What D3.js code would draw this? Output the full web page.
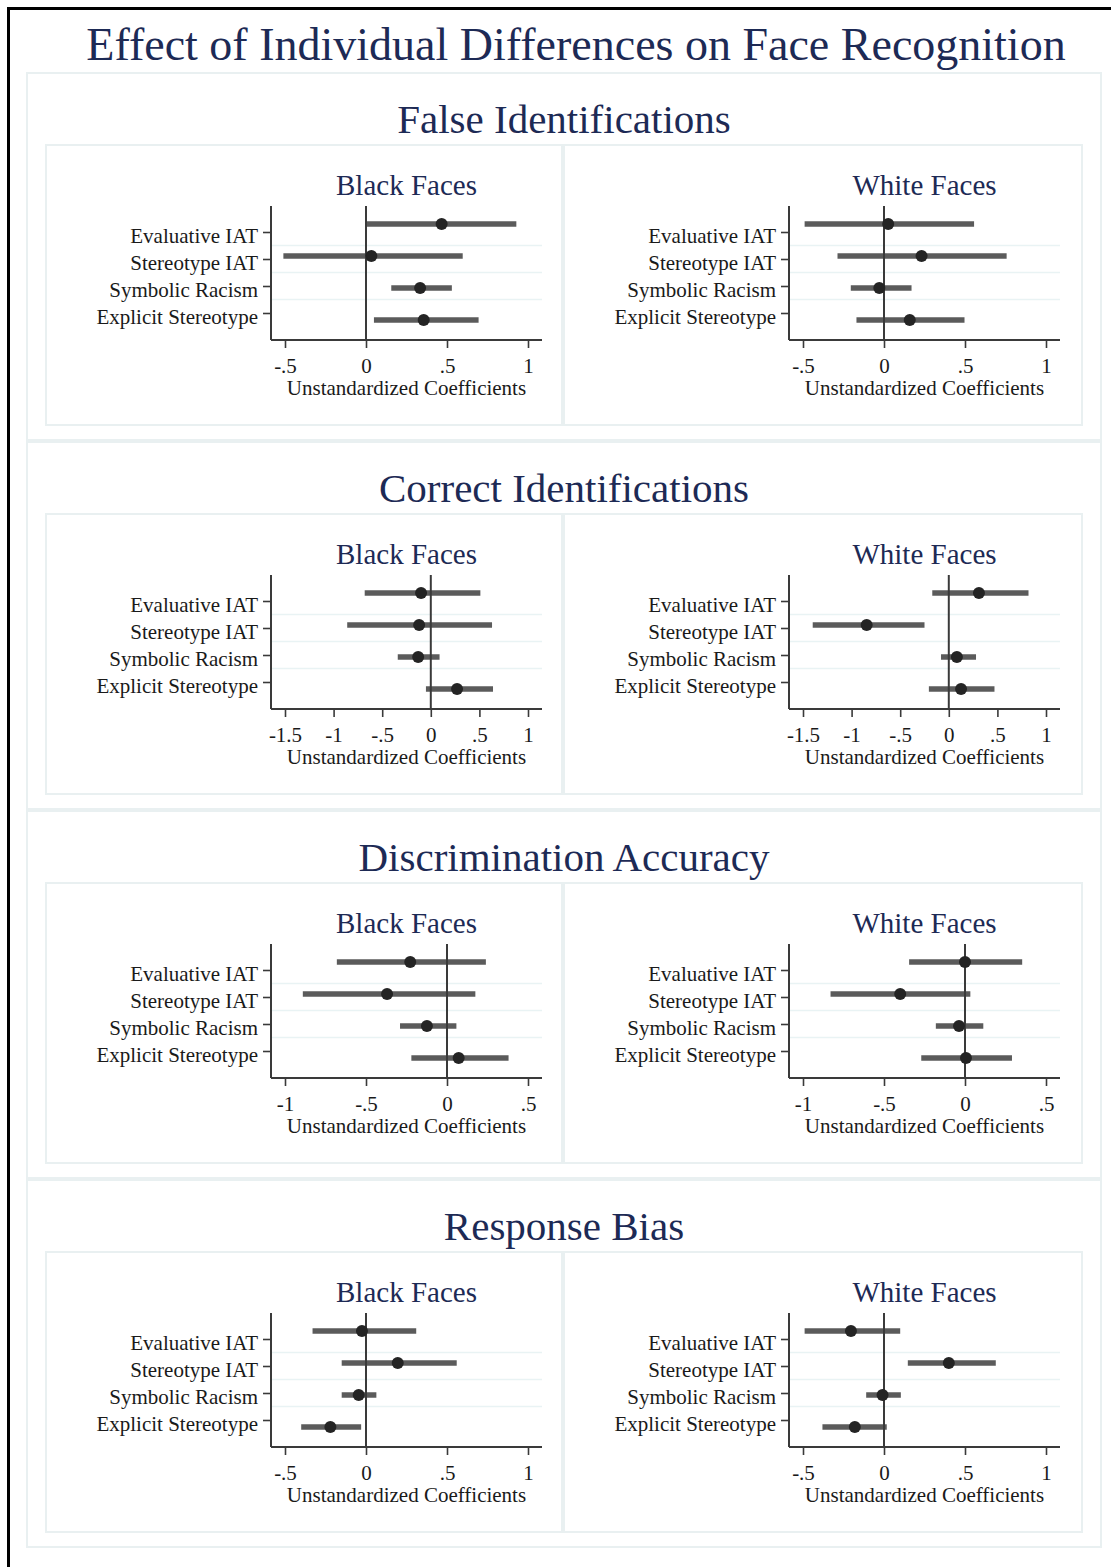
<!DOCTYPE html>
<html>
<head>
<meta charset="utf-8">
<script src="https://cdn.jsdelivr.net/npm/d3@7"></script>
<style>
  html, body { margin: 0; padding: 0; background: #fff; }
  svg { display: block; }
  text { font-family: "Liberation Serif", "Times New Roman", serif; }
</style>
</head>
<body>
<script>
// ---------- data ----------
const chartTitle = "Effect of Individual Differences on Face Recognition";
const outcomes = ["False Identifications", "Correct Identifications", "Discrimination Accuracy", "Response Bias"];
const faceGroups = ["Black Faces", "White Faces"];
const predictors = ["Evaluative IAT", "Stereotype IAT", "Symbolic Racism", "Explicit Stereotype"];
const xAxisTitle = "Unstandardized Coefficients";

// tick values / labels
const ticksA = [-0.5, 0, 0.5, 1];
const tickLabelsA = ["-.5", "0", ".5", "1"];
const ticksB = [-1.5, -1, -0.5, 0, 0.5, 1];
const tickLabelsB = ["-1.5", "-1", "-.5", "0", ".5", "1"];
const ticksC = [-1, -0.5, 0, 0.5];
const tickLabelsC = ["-1", "-.5", "0", ".5"];

// False identifications
const falseBlackCoef = [0.467, 0.033, 0.334, 0.356];
const falseBlackLo   = [0.006, -0.51, 0.156, 0.049];
const falseBlackHi   = [0.928, 0.597, 0.53, 0.695];
const falseWhiteCoef = [0.026, 0.232, -0.029, 0.159];
const falseWhiteLo   = [-0.49, -0.287, -0.205, -0.17];
const falseWhiteHi   = [0.556, 0.757, 0.17, 0.497];
// Correct identifications
const correctBlackCoef = [-0.10, -0.12, -0.13, 0.27];
const correctBlackLo   = [-0.68, -0.86, -0.34, -0.05];
const correctBlackHi   = [0.51, 0.63, 0.09, 0.64];
const correctWhiteCoef = [0.31, -0.845, 0.083, 0.126];
const correctWhiteLo   = [-0.17, -1.40, -0.08, -0.205];
const correctWhiteHi   = [0.82, -0.25, 0.28, 0.47];
// Discrimination accuracy
const discBlackCoef = [-0.227, -0.37, -0.124, 0.072];
const discBlackLo   = [-0.68, -0.89, -0.29, -0.22];
const discBlackHi   = [0.24, 0.175, 0.058, 0.38];
const discWhiteCoef = [0.0, -0.40, -0.037, 0.006];
const discWhiteLo   = [-0.345, -0.83, -0.18, -0.27];
const discWhiteHi   = [0.353, 0.033, 0.113, 0.29];
// Response bias
const biasBlackCoef = [-0.025, 0.196, -0.045, -0.22];
const biasBlackLo   = [-0.33, -0.15, -0.15, -0.40];
const biasBlackHi   = [0.31, 0.56, 0.064, -0.03];
const biasWhiteCoef = [-0.204, 0.40, -0.009, -0.18];
const biasWhiteLo   = [-0.49, 0.147, -0.11, -0.38];
const biasWhiteHi   = [0.10, 0.69, 0.104, 0.017];

const sectionTicks = [ticksA, ticksB, ticksC, ticksA];
const sectionTickLabels = [tickLabelsA, tickLabelsB, tickLabelsC, tickLabelsA];
const panelSeries = [
  [[falseBlackCoef, falseBlackLo, falseBlackHi], [falseWhiteCoef, falseWhiteLo, falseWhiteHi]],
  [[correctBlackCoef, correctBlackLo, correctBlackHi], [correctWhiteCoef, correctWhiteLo, correctWhiteHi]],
  [[discBlackCoef, discBlackLo, discBlackHi], [discWhiteCoef, discWhiteLo, discWhiteHi]],
  [[biasBlackCoef, biasBlackLo, biasBlackHi], [biasWhiteCoef, biasWhiteLo, biasWhiteHi]]
];

// ---------- layout / style ----------
const W = 1111, H = 1567;
const navy = "#1d2a55";
const boxStroke = "#e9f0f1";
const gridStroke = "#e9f3f4";
const axisColor = "#3a3a3a";
const ciColor = "#5b5b5b";
const dotColor = "#242424";
const sectionStep = 369;
const panelBoxX = [46, 564];
const panelBoxW = [516, 518];

const svg = d3.select("body").append("svg")
  .attr("width", W).attr("height", H)
  .attr("viewBox", `0 0 ${W} ${H}`);

svg.append("rect").attr("x", 0).attr("y", 0).attr("width", W).attr("height", H).attr("fill", "#fff");

// outer frame (left & top visible; right/bottom cropped)
svg.append("rect")
  .attr("x", 8.5).attr("y", 8.5).attr("width", W + 20).attr("height", H + 20)
  .attr("fill", "none").attr("stroke", "#000").attr("stroke-width", 3);

svg.append("text")
  .attr("x", 576).attr("y", 60)
  .attr("text-anchor", "middle")
  .attr("font-size", 46)
  .attr("fill", navy)
  .text(chartTitle);

outcomes.forEach((outcome, si) => {
  const sy = 73 + si * sectionStep;
  const g = svg.append("g");
  g.append("rect")
    .attr("x", 27).attr("y", sy).attr("width", 1074).attr("height", 367)
    .attr("fill", "none").attr("stroke", boxStroke).attr("stroke-width", 2);
  g.append("text")
    .attr("x", 564).attr("y", sy + 60)
    .attr("text-anchor", "middle")
    .attr("font-size", 41)
    .attr("fill", navy)
    .text(outcome);

  const T = 145 + si * sectionStep;
  const ticks = sectionTicks[si];
  const tickLabels = sectionTickLabels[si];

  faceGroups.forEach((group, pi) => {
    const bx = panelBoxX[pi];
    const pg = g.append("g");
    pg.append("rect")
      .attr("x", bx).attr("y", T).attr("width", panelBoxW[pi]).attr("height", 280)
      .attr("fill", "none").attr("stroke", boxStroke).attr("stroke-width", 2);

    const L = bx + 225, R = bx + 496;
    const top = T + 61, bottom = T + 195;

    const x = d3.scaleLinear()
      .domain([d3.min(ticks), d3.max(ticks)])
      .range([L + 14, R - 14]);
    const tickY = d3.scalePoint().domain(predictors).range([T + 87, T + 168]);
    const markY = d3.scalePoint().domain(predictors).range([T + 79, T + 175]);

    pg.append("text")
      .attr("x", (L + R) / 2).attr("y", T + 50)
      .attr("text-anchor", "middle")
      .attr("font-size", 29)
      .attr("fill", navy)
      .text(group);

    // gridlines between label positions
    const mids = d3.pairs(predictors).map(([a, b]) => (tickY(a) + tickY(b)) / 2);
    pg.selectAll("line.grid").data(mids).join("line")
      .attr("class", "grid")
      .attr("x1", L).attr("x2", R)
      .attr("y1", d => d).attr("y2", d => d)
      .attr("stroke", gridStroke).attr("stroke-width", 1.5);

    const [coef, lo, hi] = panelSeries[si][pi];
    const rows = predictors.map((p, i) => ({ p, coef: coef[i], lo: lo[i], hi: hi[i] }));

    // CI bars
    pg.selectAll("line.ci").data(rows).join("line")
      .attr("class", "ci")
      .attr("x1", d => x(d.lo)).attr("x2", d => x(d.hi))
      .attr("y1", d => markY(d.p)).attr("y2", d => markY(d.p))
      .attr("stroke", ciColor).attr("stroke-width", 5.5);

    // zero reference line
    pg.append("line")
      .attr("x1", x(0)).attr("x2", x(0))
      .attr("y1", top).attr("y2", bottom)
      .attr("stroke", axisColor).attr("stroke-width", 2);

    // point estimates
    pg.selectAll("circle.pt").data(rows).join("circle")
      .attr("class", "pt")
      .attr("cx", d => x(d.coef)).attr("cy", d => markY(d.p))
      .attr("r", 6)
      .attr("fill", dotColor);

    // x axis
    const xAxis = d3.axisBottom(x)
      .tickValues(ticks)
      .tickFormat((d, i) => tickLabels[i])
      .tickSize(8).tickSizeOuter(0).tickPadding(10);
    const xg = pg.append("g").attr("transform", `translate(0,${bottom})`).call(xAxis);
    xg.select(".domain").attr("d", `M${L},0H${R}`);
    xg.selectAll("line").attr("stroke", axisColor).attr("stroke-width", 1.6);
    xg.select(".domain").attr("stroke", axisColor).attr("stroke-width", 2);
    xg.selectAll("text")
      .attr("font-family", "Liberation Serif, Times New Roman, serif")
      .attr("font-size", 21).attr("fill", "#1a1a1a");

    // y axis
    const yAxis = d3.axisLeft(tickY).tickSize(8).tickSizeOuter(0).tickPadding(5);
    const yg = pg.append("g").attr("transform", `translate(${L},0)`).call(yAxis);
    yg.select(".domain").attr("d", `M0,${top}V${bottom}`).attr("stroke", axisColor).attr("stroke-width", 2);
    yg.selectAll(".tick line").attr("stroke", axisColor).attr("stroke-width", 1.6);
    yg.selectAll("text")
      .attr("font-family", "Liberation Serif, Times New Roman, serif")
      .attr("font-size", 21).attr("fill", "#1a1a1a")
      .attr("dy", "0.48em");

    pg.append("text")
      .attr("x", (L + R) / 2).attr("y", T + 250)
      .attr("text-anchor", "middle")
      .attr("font-size", 21)
      .attr("fill", "#1a1a1a")
      .text(xAxisTitle);
  });
});
</script>
</body>
</html>
